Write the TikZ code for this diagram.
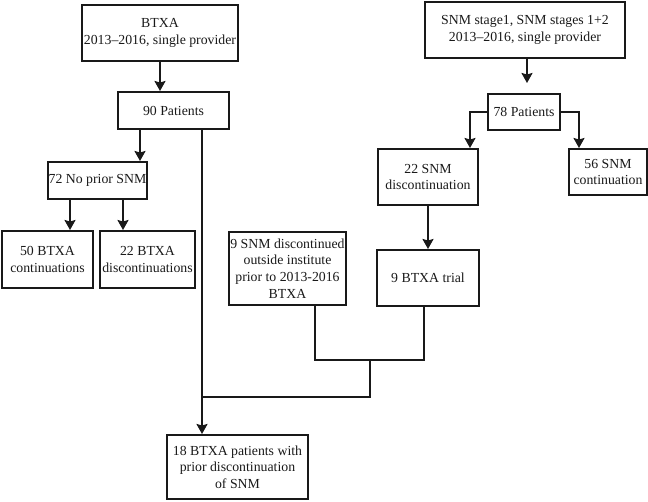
\documentclass[tikz,border=0pt]{standalone}
\usepackage{fontspec}
\setmainfont{Liberation Serif}
\usetikzlibrary{arrows.meta,calc}
\begin{document}
\begin{tikzpicture}[x=1pt,y=-1pt,
  box/.style={draw=black!90,line width=2pt,align=center,inner sep=1pt,
    font=\fontsize{13.8}{16.7}\selectfont,text=black!90},
  conn/.style={draw=black!90,line width=2pt},
  arr/.style={conn,-{Stealth[length=10pt,width=11pt,inset=1.5pt]}}]
\useasboundingbox (0,0) rectangle (648,501);
% left branch
\node[box,minimum width=156pt,minimum height=56pt] (b1) at (160,33) {BTXA\\2013--2016, single provider};
\node[box,minimum width=111pt,minimum height=37pt] (p90) at (173.5,110.5) {90 Patients};
\node[box,minimum width=99pt,minimum height=37pt] (n72) at (97.5,180.5) {72 No prior SNM};
\node[box,minimum width=91pt,minimum height=57pt] (c50) at (47.5,259.5) {50 BTXA\\continuations};
\node[box,minimum width=95pt,minimum height=57pt] (d22) at (147.5,259.5) {22 BTXA\\discontinuations};
\node[box,minimum width=117pt,minimum height=73pt] (s9) at (287.5,268.5) {9 SNM discontinued\\outside institute\\prior to 2013-2016\\BTXA};
\node[box,minimum width=102pt,minimum height=56pt] (t9) at (428,278) {9 BTXA trial};
\node[box,minimum width=141pt,minimum height=64pt] (fin) at (237.5,467) {18 BTXA patients with\\prior discontinuation\\of SNM};
% right branch
\node[box,minimum width=200pt,minimum height=56pt] (snm) at (525,30) {SNM stage1, SNM stages 1+2\\2013--2016, single provider};
\node[box,minimum width=72pt,minimum height=36pt] (p78) at (524,112) {78 Patients};
\node[box,minimum width=100pt,minimum height=56pt] (sd22) at (428,177) {22 SNM\\discontinuation};
\node[box,minimum width=78pt,minimum height=46pt] (sc56) at (608,172) {56 SNM\\continuation};
% connectors
\draw[arr] (b1.south) -- (b1.south |- p90.north);
\draw[arr] ([xshift=-33.5pt]p90.south) -- ([xshift=-33.5pt]p90.south |- n72.north);
\draw[arr] ([xshift=-27.5pt]n72.south) -- ([xshift=-27.5pt]n72.south |- c50.north);
\draw[arr] ([xshift=25.5pt]n72.south) -- ([xshift=25.5pt]n72.south |- d22.north);
\coordinate (p90o) at ([xshift=28.5pt]p90.south);
\draw[arr] (p90o) -- (p90o |- fin.north);
\coordinate (m1) at (370,360);
\coordinate (m2) at (370,397);
\draw[conn] ([xshift=27.5pt]s9.south) |- (m1) -| ([xshift=-4pt]t9.south);
\draw[conn] (m1) -- (m2) -- (m2 -| p90o);
\draw[arr,shorten >=10pt] ([xshift=2pt]snm.south) -- ([xshift=2pt]snm.south |- p78.north);
\draw[arr] (p78.west) -| ([xshift=42pt]sd22.north);
\draw[arr] (p78.east) -| ([xshift=-29pt]sc56.north);
\draw[arr] (sd22.south) -- (sd22.south |- t9.north);
\end{tikzpicture}
\end{document}
